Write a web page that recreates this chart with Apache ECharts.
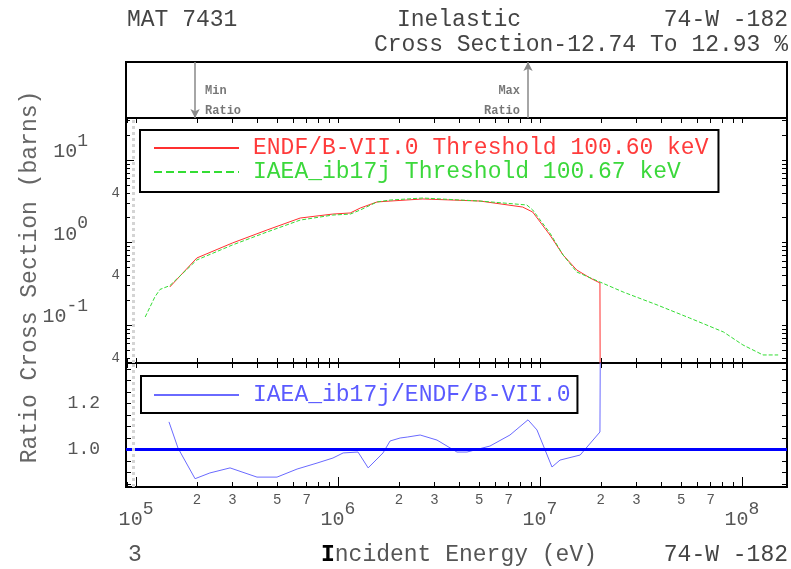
<!DOCTYPE html>
<html>
<head>
<meta charset="utf-8">
<script src="https://cdn.jsdelivr.net/npm/echarts@6/dist/echarts.min.js"></script>
<style>
html, body { margin: 0; padding: 0; background: #fff; }
#main { width: 791px; height: 569px; }
</style>
</head>
<body>
<div id="main"></div>
<script>
// ENDF/B-VII.0 inelastic cross section (eV, barns)
var endfEnergy = [1.47e5, 2.0e5, 3.0e5, 4.45e5, 6.5e5, 9.4e5, 1.15e6, 1.29e6, 1.56e6, 1.81e6, 2.63e6, 5.05e6, 8.2e6, 9.2e6, 1.12e7, 1.30e7, 1.52e7, 1.77e7, 1.98e7, 2.0e7];
var endfXs = [0.289, 0.649, 0.986, 1.417, 1.98, 2.21, 2.28, 2.62, 3.10, 3.18, 3.37, 3.18, 2.69, 2.34, 1.23, 0.706, 0.464, 0.371, 0.323, 1e-5];

// IAEA_ib17j
var iaeaEnergy = [1.11e5, 1.24e5, 1.315e5, 1.47e5, 2.0e5, 3.0e5, 4.45e5, 6.5e5, 9.4e5, 1.15e6, 1.29e6, 1.56e6, 1.81e6, 2.63e6, 5.05e6, 8.6e6, 9.2e6, 1.12e7, 1.30e7, 1.52e7, 1.98e7, 2.58e7, 3.8e7, 5.5e7, 8.1e7, 1.01e8, 1.27e8, 1.51e8];
var iaeaXs = [0.125, 0.219, 0.27, 0.30, 0.614, 0.933, 1.34, 1.87, 2.15, 2.21, 2.48, 3.10, 3.27, 3.46, 3.18, 2.85, 2.48, 1.30, 0.706, 0.439, 0.332, 0.251, 0.175, 0.1216, 0.0822, 0.0573, 0.0433, 0.0433];

// ratio IAEA / ENDF
var ratioEnergy = [1.456e5, 1.614e5, 1.96e5, 2.32e5, 2.92e5, 3.97e5, 4.99e5, 6.27e5, 7.87e5, 9.44e5, 1.06e6, 1.256e6, 1.41e6, 1.67e6, 1.81e6, 2.03e6, 2.20e6, 2.55e6, 3.09e6, 3.88e6, 4.35e6, 5.65e6, 7.10e6, 8.72e6, 9.66e6, 1.146e7, 1.256e7, 1.58e7, 1.98e7, 2.0e7];
var ratioVal = [1.120, 1.006, 0.873, 0.898, 0.920, 0.880, 0.880, 0.915, 0.941, 0.963, 0.985, 0.989, 0.920, 0.985, 1.037, 1.050, 1.054, 1.063, 1.041, 0.989, 0.989, 1.015, 1.063, 1.129, 1.085, 0.924, 0.954, 0.976, 1.076, 2.0];

var minRatioE = 1.96e5;
var maxRatioE = 8.72e6;
var dataStartE = 9.7e4;

// axis ticks and labels
var xTicks = [9e4, 1e5, 2e5, 3e5, 4e5, 5e5, 6e5, 7e5, 8e5, 9e5, 1e6, 2e6, 3e6, 4e6, 5e6, 6e6, 7e6, 8e6, 9e6, 1e7, 2e7, 3e7, 4e7, 5e7, 6e7, 7e7, 8e7, 9e7, 1e8];
var xMinorLabels = [2e5, 3e5, 5e5, 7e5, 2e6, 3e6, 5e6, 7e6, 2e7, 3e7, 5e7, 7e7];
var xDecades = [1e5, 1e6, 1e7, 1e8];
var yDecades = [0.1, 1, 10];
var yMinor = [0.04, 0.05, 0.06, 0.07, 0.08, 0.09, 0.2, 0.3, 0.4, 0.5, 0.6, 0.7, 0.8, 0.9, 2, 3, 4, 5, 6, 7, 8, 9, 20, 30];
var yFourLabels = [0.04, 0.4, 4];
var ratioTicks = [0.85, 0.9, 0.95, 1.0, 1.05, 1.1, 1.15, 1.2, 1.25, 1.3, 1.35];
var ratioLabels = [1.0, 1.2];

var nameEndf = 'ENDF/B-VII.0 Threshold 100.60 keV';
var nameIaea = 'IAEA_ib17j Threshold 100.67 keV';
var nameRatio = 'IAEA_ib17j/ENDF/B-VII.0';

var X_MIN = 8.92e4, X_MAX = 1.67e8;
var Y_MIN = 0.0346, Y_MAX = 32.3;
var R_MIN = 0.837, R_MAX = 1.376;

var mono = '"Liberation Mono", "DejaVu Sans Mono", monospace';
var grey = '#555';

function zip(a, b) {
    return a.map(function (v, i) { return [v, b[i]]; });
}

function logX(grid, pos, extra) {
    var ax = {
        gridIndex: grid, type: 'log', min: X_MIN, max: X_MAX, position: pos,
        axisLine: {show: false}, splitLine: {show: false},
        axisTick: {show: false}, axisLabel: {show: false}
    };
    return Object.assign(ax, extra || {});
}

function ticks(values, len) {
    return {show: true, inside: true, length: len, customValues: values, lineStyle: {color: '#000', width: 1}};
}

var supRich = {
    b: {fontFamily: mono, fontSize: 20, color: grey},
    s: {fontFamily: mono, fontSize: 18, color: grey, padding: [0, 0, 22, 0]}
};

var myChart = echarts.init(document.getElementById('main'));
var option = {
    animation: false,
    backgroundColor: '#fff',
    grid: [
        {left: 126, top: 62, width: 661, height: 56, show: true, borderColor: '#000', borderWidth: 2},
        {left: 126, top: 118, width: 661, height: 245, show: true, borderColor: '#000', borderWidth: 2},
        {left: 126, top: 363, width: 661, height: 124, show: true, borderColor: '#000', borderWidth: 2}
    ],
    xAxis: [
        logX(0, 'bottom'),
        logX(1, 'bottom', {axisTick: ticks(xTicks, 5)}),
        logX(1, 'top', {axisTick: ticks(xTicks, 5)}),
        logX(2, 'bottom', {
            axisTick: ticks(xTicks, 5),
            axisLabel: {
                show: true, customValues: xMinorLabels, margin: 6,
                fontFamily: mono, fontSize: 14, color: grey,
                formatter: function (v) {
                    return String(Math.round(v / Math.pow(10, Math.floor(Math.log10(v) + 1e-9))));
                }
            }
        }),
        logX(2, 'bottom', {
            axisTick: ticks(xDecades, 10),
            axisLabel: {
                show: true, customValues: xDecades, margin: 13, rich: supRich,
                formatter: function (v) {
                    return '{b|10}{s|' + Math.round(Math.log10(v)) + '}';
                }
            }
        }),
        logX(2, 'top', {axisTick: ticks(xTicks, 5)})
    ],
    yAxis: [
        {gridIndex: 0, type: 'value', min: 0, max: 1, show: false},
        {
            gridIndex: 1, type: 'log', min: Y_MIN, max: Y_MAX, position: 'left',
            axisLine: {show: false}, splitLine: {show: false},
            axisTick: ticks(yDecades, 8),
            axisLabel: {
                customValues: yDecades, margin: 38, rich: supRich, padding: [0, 0, 16, 0],
                formatter: function (v) {
                    return '{b|10}{s|' + Math.round(Math.log10(v)) + '}';
                }
            }
        },
        {
            gridIndex: 1, type: 'log', min: Y_MIN, max: Y_MAX, position: 'left',
            axisLine: {show: false}, splitLine: {show: false},
            axisTick: ticks(yMinor, 4),
            axisLabel: {
                customValues: yFourLabels, margin: 6, fontFamily: mono, fontSize: 14, color: grey,
                padding: [0, 0, 10, 0],
                formatter: function () { return '4'; }
            }
        },
        {
            gridIndex: 1, type: 'log', min: Y_MIN, max: Y_MAX, position: 'right',
            axisLine: {show: false}, splitLine: {show: false},
            axisTick: ticks(yDecades.concat(yMinor), 5),
            axisLabel: {show: false}
        },
        {
            gridIndex: 2, type: 'value', min: R_MIN, max: R_MAX, position: 'left',
            axisLine: {show: false}, splitLine: {show: false},
            axisTick: ticks(ratioTicks, 5),
            axisLabel: {
                customValues: ratioLabels, margin: 26, fontFamily: mono, fontSize: 18, color: grey,
                padding: [0, 0, 8, 0],
                formatter: function (v) { return v.toFixed(1); }
            }
        },
        {
            gridIndex: 2, type: 'value', min: R_MIN, max: R_MAX, position: 'right',
            axisLine: {show: false}, splitLine: {show: false},
            axisTick: ticks(ratioTicks, 5),
            axisLabel: {show: false}
        }
    ],
    legend: [
        {
            data: [
                {name: nameEndf, textStyle: {color: '#ff3b3b'}},
                {name: nameIaea, textStyle: {color: '#3bd83b'}}
            ],
            orient: 'vertical', left: 140, top: 130,
            padding: [6, 10, 8, 13], itemGap: 0, itemWidth: 85, itemHeight: 14,
            itemStyle: {opacity: 0},
            borderColor: '#000', borderWidth: 2, selectedMode: false,
            textStyle: {fontFamily: mono, fontSize: 23, lineHeight: 24, padding: [0, 0, 0, 9]}
        },
        {
            data: [{name: nameRatio, textStyle: {color: '#5a5aff'}}],
            orient: 'vertical', left: 141, top: 376,
            padding: [7, 7, 6, 12], itemGap: 0, itemWidth: 85, itemHeight: 14,
            itemStyle: {opacity: 0},
            borderColor: '#000', borderWidth: 2, selectedMode: false,
            textStyle: {fontFamily: mono, fontSize: 23, lineHeight: 24, padding: [0, 0, 0, 9]}
        }
    ],
    series: [
        {
            name: 'arrows', type: 'scatter', xAxisIndex: 0, yAxisIndex: 0,
            symbolSize: 0, silent: true,
            data: [
                {value: [minRatioE, 0.30], label: {show: true, position: 'right', distance: 10, formatter: 'Min\nRatio'}},
                {value: [maxRatioE, 0.30], label: {show: true, position: 'left', distance: 8, formatter: 'Max\nRatio'}}
            ],
            label: {fontFamily: mono, fontSize: 12, fontWeight: 'bold', color: grey, lineHeight: 20},
            markLine: {
                silent: true, symbol: ['none', 'arrow'], symbolSize: [7, 9],
                lineStyle: {color: '#888', width: 1.5, type: 'solid'},
                label: {show: false},
                data: [
                    [{coord: [minRatioE, 1]}, {coord: [minRatioE, 0]}],
                    [{coord: [maxRatioE, 0]}, {coord: [maxRatioE, 1]}]
                ]
            }
        },
        {
            name: nameEndf, type: 'line', xAxisIndex: 1, yAxisIndex: 1,
            data: zip(endfEnergy, endfXs), symbol: 'none',
            lineStyle: {color: '#ff3030', width: 1},
            itemStyle: {color: '#ff3030'},
            markLine: {
                silent: true, symbol: 'none', label: {show: false},
                lineStyle: {color: '#d4d4d4', width: 3, type: 'dotted'},
                data: [{xAxis: dataStartE}]
            }
        },
        {
            name: nameIaea, type: 'line', xAxisIndex: 1, yAxisIndex: 1,
            data: zip(iaeaEnergy, iaeaXs), symbol: 'none',
            lineStyle: {color: '#33dd33', width: 1, type: 'dashed'},
            itemStyle: {color: '#33dd33'}
        },
        {
            name: nameRatio, type: 'line', xAxisIndex: 3, yAxisIndex: 4,
            data: zip(ratioEnergy, ratioVal), symbol: 'none',
            lineStyle: {color: '#6a6aff', width: 1},
            itemStyle: {color: '#6a6aff'},
            markLine: {
                silent: true, symbol: 'none', label: {show: false},
                data: [
                    {yAxis: 1, lineStyle: {color: '#0000ff', width: 3, type: 'solid'}},
                    {xAxis: dataStartE, lineStyle: {color: '#d4d4d4', width: 3, type: 'dotted'}}
                ]
            }
        }
    ],
    graphic: [
        {type: 'text', x: 127, y: 20, style: {text: 'MAT 7431', font: '23px ' + mono, fill: '#444', align: 'left', verticalAlign: 'middle'}},
        {type: 'text', x: 459, y: 20, style: {text: 'Inelastic', font: '23px ' + mono, fill: '#444', align: 'center', verticalAlign: 'middle'}},
        {type: 'text', x: 788, y: 20, style: {text: '74-W -182', font: '23px ' + mono, fill: '#444', align: 'right', verticalAlign: 'middle'}},
        {type: 'text', x: 788, y: 45, style: {text: 'Cross Section-12.74 To 12.93 %', font: '23px ' + mono, fill: '#444', align: 'right', verticalAlign: 'middle'}},
        {type: 'text', x: 30, y: 277, rotation: Math.PI / 2, style: {text: 'Ratio Cross Section (barns)', font: '23px ' + mono, fill: '#666', align: 'center', verticalAlign: 'middle'}},
        {type: 'text', x: 128, y: 555, style: {text: '3', font: '23px ' + mono, fill: '#555', align: 'left', verticalAlign: 'middle'}},
        {
            type: 'text', x: 459, y: 555,
            style: {
                text: '{a|I}{b|ncident Energy (eV)}', align: 'center', verticalAlign: 'middle',
                rich: {
                    a: {fontFamily: mono, fontSize: 23, fontWeight: 'bold', fill: '#000'},
                    b: {fontFamily: mono, fontSize: 23, fill: '#555'}
                }
            }
        },
        {type: 'text', x: 788, y: 555, style: {text: '74-W -182', font: '23px ' + mono, fill: '#444', align: 'right', verticalAlign: 'middle'}}
    ]
};
myChart.setOption(option);
</script>
</body>
</html>
